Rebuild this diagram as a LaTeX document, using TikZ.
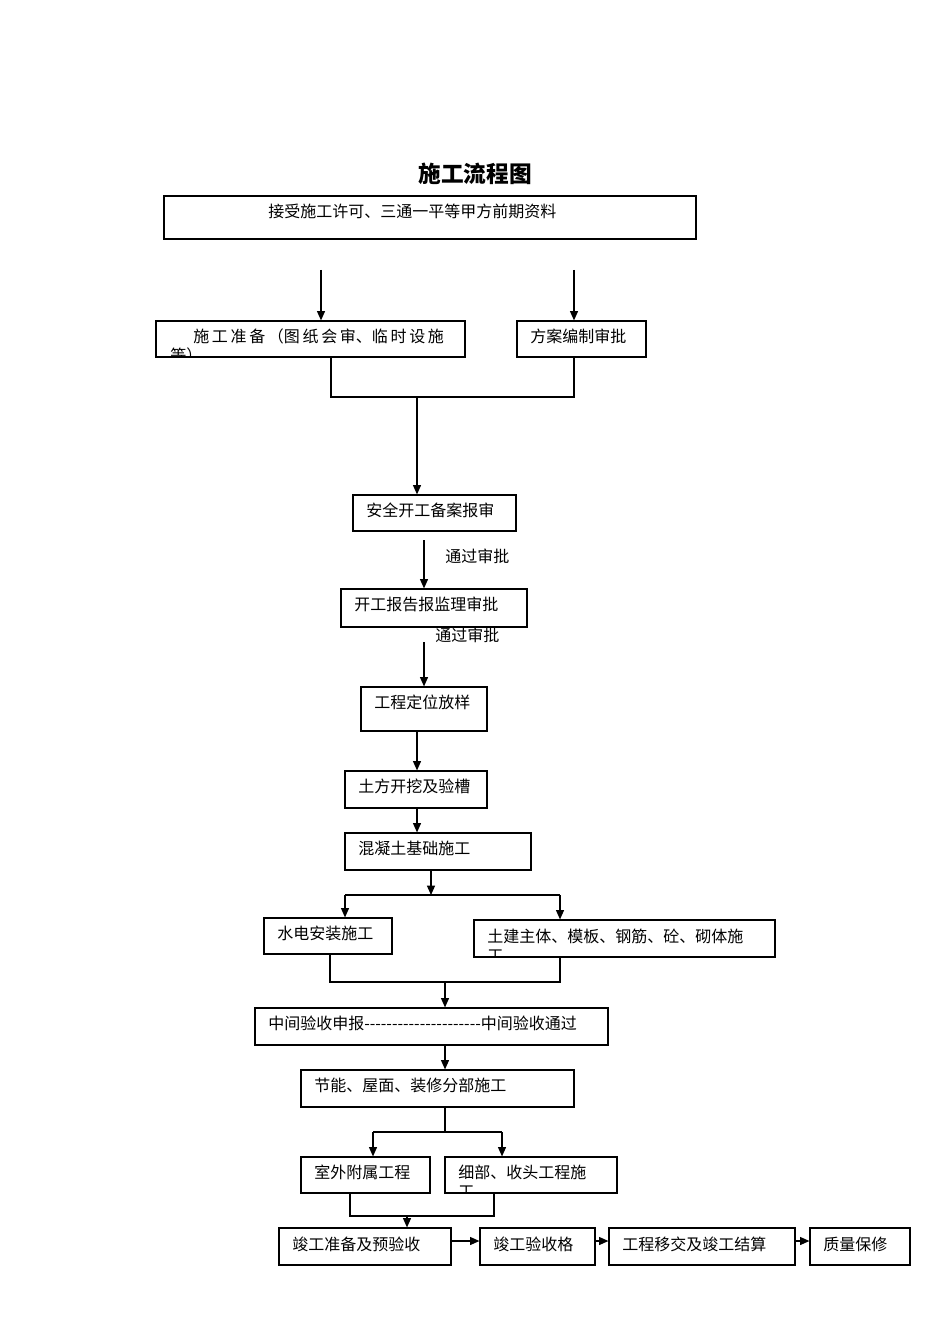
\documentclass[tikz,border=0pt]{standalone}
\usepackage{fontspec}
\newfontfamily\cjk{Noto Sans CJK SC}
\usetikzlibrary{arrows.meta}
\begin{document}
\begin{tikzpicture}[x=0.75pt,y=-0.75pt,
  box/.style={draw,line width=0.9pt,inner sep=0pt,rectangle},
  lbl/.style={anchor=west,inner sep=0pt,font=\cjk\fontsize{12}{14}\selectfont},
  ln/.style={line width=0.9pt},
  arr/.style={line width=0.9pt,-{Triangle[length=7pt,width=6pt]}}]
\useasboundingbox (0,0) rectangle (950,1344);
\newcommand\bx[5]{\node[box,minimum width={(#4-#2)*0.75pt},minimum height={(#5-#3)*0.75pt}] (#1) at ({(#2+#4)/2},{(#3+#5)/2}) {};}
\node[font=\cjk\bfseries\fontsize{17}{20}\selectfont] (title) at (475,174) {施工流程图};
\bx{T}{164}{196}{696}{239}
\node[lbl] at (268,211) {接受施工许可、三通一平等甲方前期资料};
\bx{A}{156}{321}{465}{357}
\node[lbl] at (193,336) {施\,工\,准\,备\,（图\,纸\,会\,审、临\,时\,设\,施};
\begin{scope}\clip (156,321) rectangle (465,357);
\node[lbl] at (170,355) {等）};\end{scope}
\bx{B}{517}{321}{646}{357}
\node[lbl] at (530,336) {方案编制审批};
\bx{C}{353}{495}{516}{531}
\node[lbl] at (366,510) {安全开工备案报审};
\bx{D}{341}{589}{527}{627}
\node[lbl] at (354,604) {开工报告报监理审批};
\bx{E}{361}{687}{487}{731}
\node[lbl] at (374,702) {工程定位放样};
\bx{F}{345}{771}{487}{808}
\node[lbl] at (358,786) {土方开挖及验槽};
\bx{G}{345}{833}{531}{870}
\node[lbl] at (358,848) {混凝土基础施工};
\bx{H}{264}{918}{392}{954}
\node[lbl] at (277,933) {水电安装施工};
\bx{I}{474}{920}{775}{957}
\node[lbl] at (487,936) {土建主体、模板、钢筋、砼、砌体施};
\begin{scope}\clip (474,920) rectangle (775,957);
\node[lbl] at (487,956) {工};\end{scope}
\bx{J}{255}{1008}{608}{1045}
\node[lbl] at (268,1023) {中间验收申报---------------------中间验收通过};
\bx{K}{301}{1070}{574}{1107}
\node[lbl] at (314,1085) {节能、屋面、装修分部施工};
\bx{L}{301}{1157}{430}{1193}
\node[lbl] at (314,1172) {室外附属工程};
\bx{M}{445}{1157}{617}{1193}
\node[lbl] at (458,1172) {细部、收头工程施};
\begin{scope}\clip (445,1157) rectangle (617,1193);
\node[lbl] at (458,1192) {工};\end{scope}
\bx{N}{279}{1228}{451}{1265}
\node[lbl] at (292,1244) {竣工准备及预验收};
\bx{O}{480}{1228}{595}{1265}
\node[lbl] at (493,1244) {竣工验收格};
\bx{P}{609}{1228}{795}{1265}
\node[lbl] at (622,1244) {工程移交及竣工结算};
\bx{Q}{810}{1228}{910}{1265}
\node[lbl] at (823,1244) {质量保修};
\node[lbl] (p1) at (445,556) {通过审批};
\node[lbl] (p2) at (435,635) {通过审批};
% connectors
\coordinate (a1) at (321,270); \coordinate (a2) at (574,270);
\draw[arr] (a1) -- (a1 |- A.north);
\draw[arr] (a2) -- (a2 |- B.north);
\coordinate (j1) at (331,397); \coordinate (j2) at (574,397); \coordinate (j3) at (417,397);
\draw[ln] (j1 |- A.south) -- (j1) -- (j2) -- (j2 |- B.south);
\draw[arr] (j3) -- (j3 |- C.north);
\coordinate (c1) at (424,540); \draw[arr] (c1) -- (c1 |- D.north);
\coordinate (d1) at (424,642); \draw[arr] (d1) -- (d1 |- E.north);
\coordinate (e1) at (417,731); \draw[arr] (e1) -- (e1 |- F.north);
\coordinate (f1) at (417,808); \draw[arr] (f1) -- (f1 |- G.north);
\coordinate (g1) at (431,895); \coordinate (g2) at (345,895); \coordinate (g3) at (560,895);
\draw[arr] (g1 |- G.south) -- (g1);
\draw[ln] (g2) -- (g3);
\draw[arr] (g2) -- (g2 |- H.north);
\draw[arr] (g3) -- (g3 |- I.north);
\coordinate (h1) at (330,982); \coordinate (h2) at (560,982); \coordinate (h3) at (445,982);
\draw[ln] (h1 |- H.south) -- (h1) -- (h2) -- (h2 |- I.south);
\draw[arr] (h3) -- (h3 |- J.north);
\coordinate (k0) at (445,1045); \draw[arr] (k0) -- (k0 |- K.north);
\coordinate (k1) at (445,1132); \coordinate (k2) at (373,1132); \coordinate (k3) at (502,1132);
\draw[ln] (k1 |- K.south) -- (k1); \draw[ln] (k2) -- (k3);
\draw[arr] (k2) -- (k2 |- L.north);
\draw[arr] (k3) -- (k3 |- M.north);
\coordinate (m1) at (350,1216); \coordinate (m2) at (494,1216); \coordinate (m3) at (407,1216);
\draw[ln] (m1 |- L.south) -- (m1) -- (m2) -- (m2 |- M.south);
\draw[arr] (m3) -- (m3 |- N.north);
\draw[arr] (N.east |- 0,1241) -- (O.west |- 0,1241);
\draw[arr] (O.east |- 0,1241) -- (P.west |- 0,1241);
\draw[arr] (P.east |- 0,1241) -- (Q.west |- 0,1241);
\end{tikzpicture}
\end{document}
